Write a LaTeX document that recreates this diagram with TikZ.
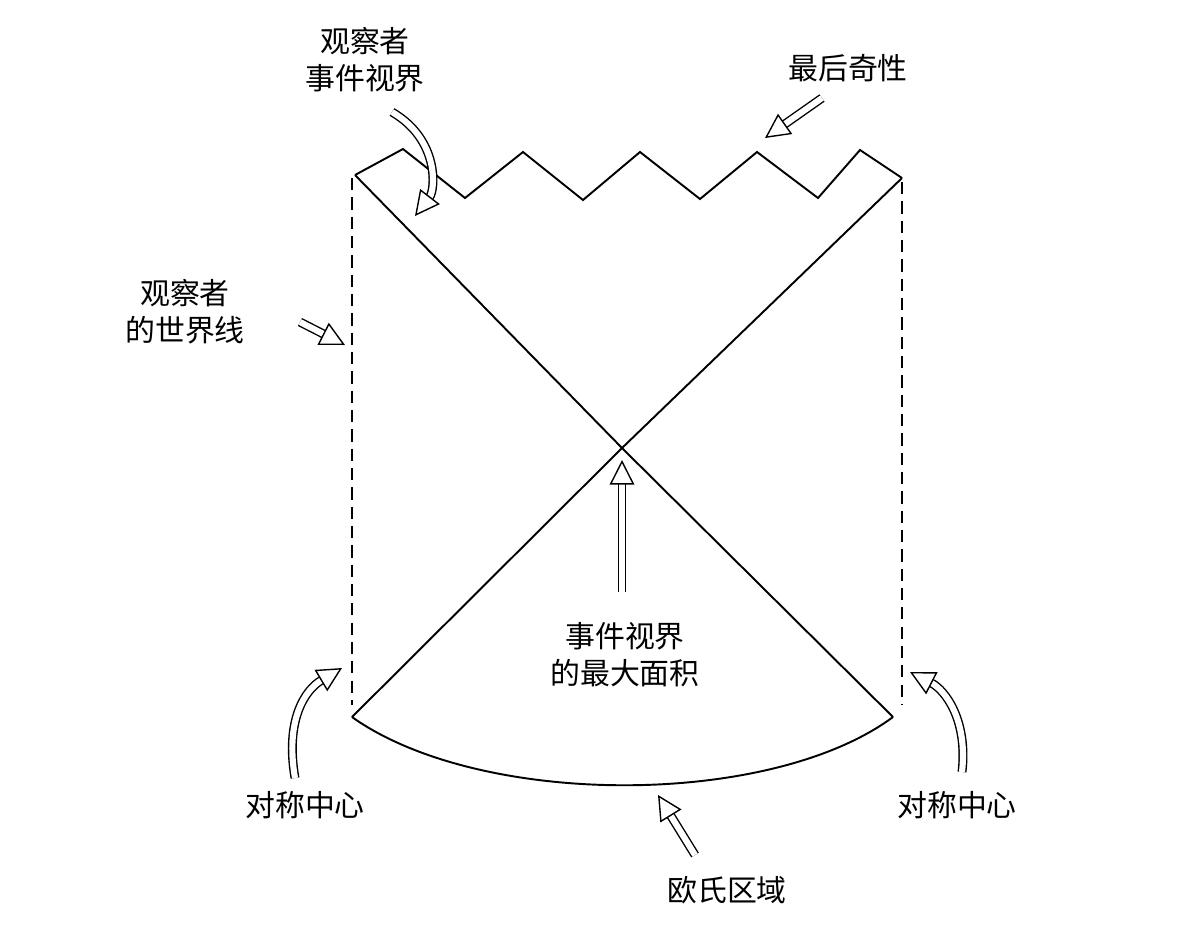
\documentclass[tikz,border=0pt]{standalone}
\usepackage{fontspec}
\setmainfont{Noto Sans CJK SC}
\usetikzlibrary{arrows.meta}
\tikzset{
  lbl/.style={align=center,font=\fontsize{17}{21}\selectfont},
  hollow/.style={double,double distance=3.5pt,line width=0.8pt,
    -{Triangle[open,length=14pt,width=14pt,line width=0.8pt]}},
  wline/.style={line width=1.6pt,dash pattern=on 7pt off 4pt}
}
\begin{document}
\begin{tikzpicture}[x=0.02cm,y=-0.02cm,line width=1.1pt]
  \useasboundingbox (0,0) rectangle (1196,938);
  % corners
  \coordinate (tl) at (355,175);
  \coordinate (tr) at (902,178);
  \coordinate (bl) at (352,717);
  \coordinate (br) at (893,717);
  \coordinate (x) at (622,448);
  % world lines
  \draw[wline] (352,178) -- (352,705);
  \draw[wline] (902,182) -- (902,705);
  % horizons
  \draw (tl) -- (x) -- (br);
  \draw (tr) -- (x) -- (bl);
  % final singularity
  \draw (tl) -- (403,149) -- (465,198) -- (523,152) -- (583,200) -- (640,152)
        -- (700,199) -- (757,152) -- (818,198) -- (860,150) -- (tr);
  % euclidean region
  \draw (bl) .. controls (480,808) and (770,808) .. (br);
  % labels
  \node[lbl] (obsh) at (365,60) {观察者\\事件视界};
  \node[lbl] (sing) at (848,68) {最后奇性};
  \node[lbl] (wl) at (185,312) {观察者\\的世界线};
  \node[lbl] (area) at (625,655) {事件视界\\的最大面积};
  \node[lbl] (cl) at (305,805) {对称中心};
  \node[lbl] (cr) at (957,805) {对称中心};
  \node[lbl] (eu) at (727,890) {欧氏区域};
  % arrows
  \draw[hollow] (392,112) .. controls (440,140) and (435,190) .. (415,216);
  \draw[hollow] (822,98) -- (765,138);
  \draw[hollow] (300,322) -- (345,345);
  \draw[hollow] (622,592) -- (622,460);
  \draw[hollow] (295,778) .. controls (285,720) and (305,690) .. (342,668);
  \draw[hollow] (962,772) .. controls (968,720) and (945,690) .. (910,672);
  \draw[hollow] (695,855) -- (658,795);
\end{tikzpicture}
\end{document}
